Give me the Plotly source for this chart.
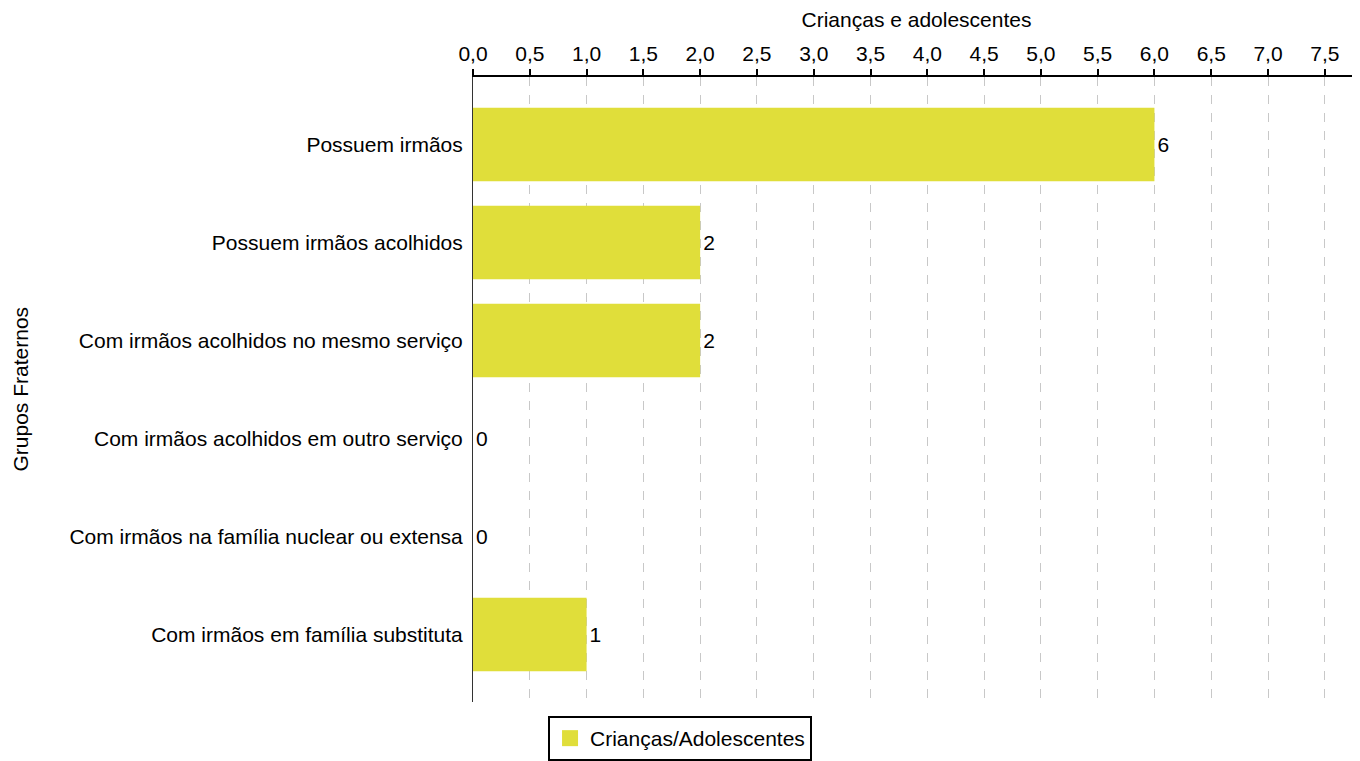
import plotly.graph_objects as go

categories = [
    "Possuem irmãos",
    "Possuem irmãos acolhidos",
    "Com irmãos acolhidos no mesmo serviço",
    "Com irmãos acolhidos em outro serviço",
    "Com irmãos na família nuclear ou extensa",
    "Com irmãos em família substituta",
]
values = [6, 2, 2, 0, 0, 1]
series_name = "Crianças/Adolescentes"
x_ticks = [0, 0.5, 1, 1.5, 2, 2.5, 3, 3.5, 4, 4.5, 5, 5.5, 6, 6.5, 7, 7.5]

FONT = "Liberation Sans, Arial, sans-serif"
FS = 21
COLOR = "#E0DE3A"
positions = list(range(len(categories)))

fig = go.Figure()
fig.add_trace(go.Bar(
    x=values, y=positions, orientation="h", name=series_name,
    marker=dict(color=COLOR, line=dict(width=0)),
    width=0.75,
    text=[str(v) for v in values], textposition="outside",
    textfont=dict(size=FS, color="#000", family=FONT),
    cliponaxis=False, showlegend=False,
))
# legend entry with a larger square symbol
fig.add_trace(go.Scatter(
    x=[None], y=[None], mode="markers", name=series_name,
    marker=dict(symbol="square", size=16, color=COLOR),
    showlegend=True,
))

fig.update_layout(
    width=1352, height=753,
    margin=dict(l=465, r=0, t=69, b=58),
    plot_bgcolor="white", paper_bgcolor="white",
    font=dict(family=FONT, size=FS, color="#000"),
    separators=",.",
    showlegend=True,
    legend=dict(
        orientation="h", x=0.0846, y=-0.022, xanchor="left", yanchor="top",
        bordercolor="#000", borderwidth=2, font=dict(size=FS),
        itemsizing="trace",
    ),
    xaxis=dict(
        side="top", range=[0, 7.81], tickvals=x_ticks, tickformat=".1f",
        showgrid=True, gridcolor="#c8c8c8", griddash="dash", gridwidth=1,
        showline=True, linecolor="#000", linewidth=2,
        ticks="outside", ticklen=6, tickwidth=2, tickcolor="#000",
        zeroline=False, automargin=False,
        title=dict(text="Crianças e adolescentes", font=dict(size=FS), standoff=8),
        tickfont=dict(size=FS),
    ),
    yaxis=dict(
        range=[5.69, -0.69], tickvals=positions, ticktext=categories,
        showgrid=False, zeroline=False, automargin=False,
        showline=True, linecolor="#333", linewidth=1,
        ticks="", ticklabelstandoff=5,
        tickfont=dict(size=FS),
    ),
    annotations=[dict(
        text="Grupos Fraternos", textangle=-90, showarrow=False,
        xref="paper", yref="paper", x=(20 - 473) / 887, y=0.5,
        xanchor="center", yanchor="middle", font=dict(size=FS),
    )],
)

fig.write_html("out.html")
